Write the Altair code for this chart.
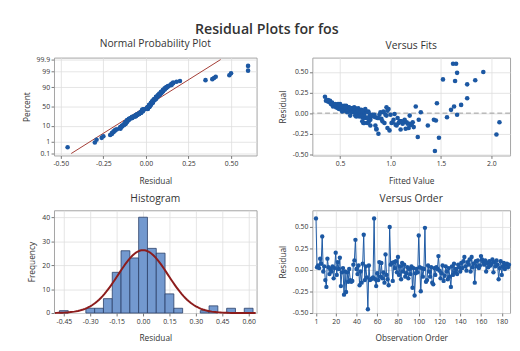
import altair as alt
import pandas as pd
import numpy as np
from statistics import NormalDist

# ---------------- data ----------------
residuals = [
    0.60, 0.03, 0.05, 0.02, 0.13, 0.07, 0.39, -0.02, 0.04, -0.12,
    -0.20, 0.13, 0.03, -0.05, 0.01, -0.02, 0.04, -0.10, 0.02, 0.20,
    -0.06, 0.09, 0.01, 0.14, -0.19, -0.03, 0.02, -0.29, -0.02, -0.26,
    -0.03, -0.14, 0.01, -0.12, -0.14, -0.13, 0.06, 0.11, 0.35, 0.01,
    -0.05, 0.05, -0.18, -0.02, -0.15, 0.07, 0.41, -0.12, 0.04, -0.09,
    -0.46, 0.05, -0.12, -0.11, -0.10, -0.09, 0.60, -0.11, -0.19, -0.04,
    -0.12, 0.09, -0.08, 0.08, -0.10, -0.03, -0.15, 0.18, -0.06, -0.11,
    -0.18, 0.50, 0.06, 0.08, -0.13, 0.09, 0.02, 0.10, -0.03, 0.15,
    -0.06, 0.04, -0.11, 0.08, -0.02, 0.06, -0.08, -0.04, 0.03, -0.10,
    0.01, -0.05, 0.04, -0.21, 0.02, -0.30, -0.04, 0.01, -0.03, 0.40,
    0.03, -0.25, 0.02, -0.08, 0.01, 0.49, -0.14, -0.12, 0.05, -0.02,
    -0.08, 0.03, -0.15, -0.17, 0.02, -0.06, 0.03, 0.01, 0.16, -0.01,
    -0.10, -0.04, 0.05, -0.13, -0.07, 0.04, -0.02, -0.11, 0.02, -0.08,
    -0.20, 0.04, -0.06, 0.07, -0.03, 0.01, -0.05, 0.06, 0.03, -0.02,
    0.08, 0.02, 0.10, 0.15, 0.04, -0.01, 0.09, 0.06, 0.12, -0.02,
    0.15, 0.03, 0.07, -0.15, 0.10, 0.04, 0.11, 0.02, 0.05, 0.16,
    0.12, 0.09, 0.06, 0.11, -0.02, 0.08, 0.03, 0.10, 0.05, 0.07,
    0.12, -0.03, 0.09, 0.04, 0.11, 0.06, -0.11, 0.02, 0.10, -0.06,
    0.04, 0.08, 0.01, 0.06, 0.07, 0.03, 0.06,
]
fitted = [
    1.62, 0.62, 0.55, 0.70, 0.42, 0.58, 1.64, 0.80, 0.66, 0.74,
    0.86, 0.40, 0.64, 0.72, 0.68, 0.95, 0.60, 1.10, 0.78, 0.35,
    0.76, 0.45, 0.90, 0.38, 1.15, 0.82, 0.52, 1.27, 0.70, 2.05,
    0.67, 1.20, 0.57, 0.73, 1.05, 1.12, 0.48, 0.41, 1.76, 0.63,
    0.85, 0.50, 1.18, 0.66, 0.85, 0.96, 1.52, 1.08, 0.61, 0.79,
    1.44, 0.98, 0.77, 1.22, 0.72, 1.45, 1.65, 1.13, 0.86, 0.69,
    1.01, 0.44, 1.43, 0.53, 0.92, 0.60, 1.37, 1.76, 0.74, 1.16,
    0.97, 1.92, 0.58, 1.25, 1.19, 0.47, 0.64, 1.70, 0.81, 0.39,
    0.88, 0.56, 0.78, 1.63, 0.71, 0.62, 1.03, 0.66, 0.59, 1.09,
    0.93, 0.75, 1.60, 0.99, 0.69, 1.48, 0.83, 1.30, 0.65, 1.84,
    0.54, 0.88, 0.76, 1.14, 0.61, 1.66, 1.21, 0.94, 0.49, 1.66,
    0.80, 0.71, 1.06, 1.23, 0.63, 0.87, 0.97, 0.68, 0.37, 0.74,
    1.11, 0.79, 0.57, 1.17, 0.91, 0.52, 0.84, 1.02, 0.67, 1.28,
    1.10, 0.60, 0.77, 0.46, 1.19, 0.72, 1.56, 0.55, 0.65, 0.89,
    0.43, 0.73, 0.47, 0.36, 0.62, 1.04, 0.51, 0.68, 1.46, 0.82,
    0.40, 0.58, 0.64, 0.80, 0.44, 0.71, 0.50, 0.93, 0.66, 0.38,
    0.42, 0.56, 0.61, 0.48, 1.00, 0.53, 0.69, 0.46, 0.75, 0.59,
    0.41, 0.96, 0.54, 0.67, 0.45, 0.63, 2.08, 0.70, 0.49, 1.07,
    0.57, 0.52, 0.78, 0.60, 0.55, 0.72, 0.65,
]
hist_centers = [-0.45, -0.40, -0.35, -0.30, -0.25, -0.20, -0.15, -0.10, -0.05, 0.00, 0.05,
                0.10, 0.15, 0.20, 0.25, 0.30, 0.35, 0.40, 0.45, 0.50, 0.55, 0.60]
hist_counts = [1, 0, 0, 2, 2, 6, 17, 26, 23, 40, 27, 25, 8, 2, 0, 0, 1, 3, 0, 2, 0, 2]
pct_ticks = [0.1, 1, 10, 50, 90, 99, 99.9]
resid_mean = 0.0
resid_sd = 0.142
bin_width = 0.05

# ---------------- style ----------------
FONT = "Open Sans"
BLUE = "#1c58a3"
RED = "#8c1c1c"
BAR = "#7399cf"
BAR_EDGE = "#2a3f66"
MINUS = "replace(datum.label, '\u2212', '-')"

n = len(residuals)
nd = NormalDist()


def ax(values, title, fmt=None, expr=None):
    kw = dict(values=values, title=title, labelOverlap=False, labelFlush=False)
    if fmt:
        kw["format"] = fmt
    if expr:
        kw["labelExpr"] = expr
    return alt.Axis(**kw)


# Normal probability plot
srt = sorted(residuals)
prob_df = pd.DataFrame({
    "resid": srt,
    "z": [nd.inv_cdf((i + 1 - 0.3) / (n + 0.4)) for i in range(n)],
})
zlim = nd.inv_cdf(0.999)
fit_line = pd.DataFrame({
    "z": [-zlim, zlim],
    "resid": [resid_mean - resid_sd * zlim, resid_mean + resid_sd * zlim],
})
z_ticks = [nd.inv_cdf(p / 100) for p in pct_ticks]
pct_expr = ("datum.value < -3 ? '0.1' : datum.value < -2 ? '1' : datum.value < -1 ? '10' : "
            "datum.value < 1 ? '50' : datum.value < 2 ? '90' : datum.value < 3 ? '99' : '99.9'")

xs_prob = alt.X("resid:Q", scale=alt.Scale(domain=[-0.54, 0.65], nice=False, zero=False),
                axis=ax([-0.5, -0.25, 0, 0.25, 0.5], "Residual", ".2f", MINUS))
ys_prob = alt.Y("z:Q", scale=alt.Scale(domain=[-3.22, 3.22], nice=False, zero=False),
                axis=ax(z_ticks, "Percent", None, pct_expr))
prob_pts = alt.Chart(prob_df).mark_circle(size=22, color=BLUE, opacity=1).encode(x=xs_prob, y=ys_prob)
prob_ln = alt.Chart(fit_line).mark_line(color="#a33a33", strokeWidth=1, clip=True).encode(x=xs_prob, y=ys_prob)
tl = alt.layer(prob_ln, prob_pts).properties(width=207, height=100, title="Normal Probability Plot")

# Versus fits
fits_df = pd.DataFrame({"fit": fitted, "resid": residuals})
fx = alt.X("fit:Q", scale=alt.Scale(domain=[0.225, 2.185], nice=False, zero=False),
           axis=ax([0.5, 1.0, 1.5, 2.0], "Fitted Value", ".1f"))
fy = alt.Y("resid:Q", scale=alt.Scale(domain=[-0.515, 0.675], nice=False, zero=False),
           axis=ax([-0.5, -0.25, 0, 0.25, 0.5], "Residual", ".2f", MINUS))
fits_pts = alt.Chart(fits_df).mark_circle(size=22, color=BLUE, opacity=1).encode(x=fx, y=fy)
zero_rule = alt.Chart(pd.DataFrame({"resid": [0.0]})).mark_rule(
    color="#9a9a9a", strokeDash=[5, 3], strokeWidth=1).encode(y=fy)
tr = alt.layer(zero_rule, fits_pts).properties(width=202, height=100, title="Versus Fits")

# Histogram
hist_df = pd.DataFrame({"c": hist_centers, "count": hist_counts})
hist_df["lo"] = hist_df["c"] - bin_width / 2
hist_df["hi"] = hist_df["c"] + bin_width / 2
hist_df = hist_df[hist_df["count"] > 0]
hx_scale = alt.Scale(domain=[-0.506, 0.645], nice=False, zero=False)
hy_scale = alt.Scale(domain=[0, 42.9], nice=False)
hx_axis = ax([-0.45, -0.30, -0.15, 0, 0.15, 0.30, 0.45, 0.60], "Residual", ".2f", MINUS)
hy_axis = ax([0, 10, 20, 30, 40], "Frequency", "d")
bars = alt.Chart(hist_df).mark_rect(fill=BAR, stroke=BAR_EDGE, strokeWidth=0.8).encode(
    x=alt.X("lo:Q", scale=hx_scale, axis=hx_axis),
    x2="hi:Q",
    y=alt.Y("count:Q", scale=hy_scale, axis=hy_axis),
    y2=alt.datum(0),
)
cx = np.arange(-0.50, 0.641, 0.01)
curve_df = pd.DataFrame({
    "lo": cx,
    "count": [n * bin_width * NormalDist(resid_mean, resid_sd).pdf(v) for v in cx],
})
curve = alt.Chart(curve_df).mark_line(color=RED, strokeWidth=2).encode(
    x=alt.X("lo:Q", scale=hx_scale, axis=hx_axis),
    y=alt.Y("count:Q", scale=hy_scale, axis=hy_axis))
bl = alt.layer(bars, curve).properties(width=207, height=105, title="Histogram")

# Versus order
order_df = pd.DataFrame({"obs": list(range(1, n + 1)), "resid": residuals})
ox = alt.X("obs:Q", scale=alt.Scale(domain=[-2.5, 188], nice=False, zero=False),
           axis=ax([1, 20, 40, 60, 80, 100, 120, 140, 160, 180], "Observation Order", "d"))
oy = alt.Y("resid:Q", scale=alt.Scale(domain=[-0.505, 0.695], nice=False, zero=False),
           axis=ax([-0.5, -0.25, 0, 0.25, 0.5], "Residual", ".2f", MINUS))
o_line = alt.Chart(order_df).mark_line(color=BLUE, strokeWidth=1).encode(x=ox, y=oy)
o_pts = alt.Chart(order_df).mark_circle(size=20, color=BLUE, opacity=1).encode(x=ox, y=oy)
br = alt.layer(o_line, o_pts).properties(width=202, height=105, title="Versus Order")

chart = alt.concat(
    tl, tr, bl, br, columns=2, spacing={"row": 56, "column": 57}, bounds="flush"
).properties(
    title=alt.TitleParams("Residual Plots for fos", fontSize=14.5, fontWeight=600, font=FONT,
                          color="#333333", anchor="middle", offset=2),
    padding={"left": 14, "top": 10, "right": 0, "bottom": 0},
).configure_view(
    stroke="#a3a3a3", strokeWidth=1
).configure_axis(
    domain=False, grid=True, gridColor="#dedede", gridWidth=0.8,
    tickColor="#777777", tickSize=3, labelFont=FONT, labelFontSize=7, labelColor="#333333",
    labelPadding=1.5, titleFont=FONT, titleFontSize=8.5, titleFontWeight="normal",
    titleColor="#333333", titlePadding=5,
).configure_axisX(
    titlePadding=10,
).configure_title(
    font=FONT, fontSize=10.5, fontWeight="normal", color="#333333", offset=6,
)

chart.save("out.html", embed_options={"renderer": "svg", "actions": False})
